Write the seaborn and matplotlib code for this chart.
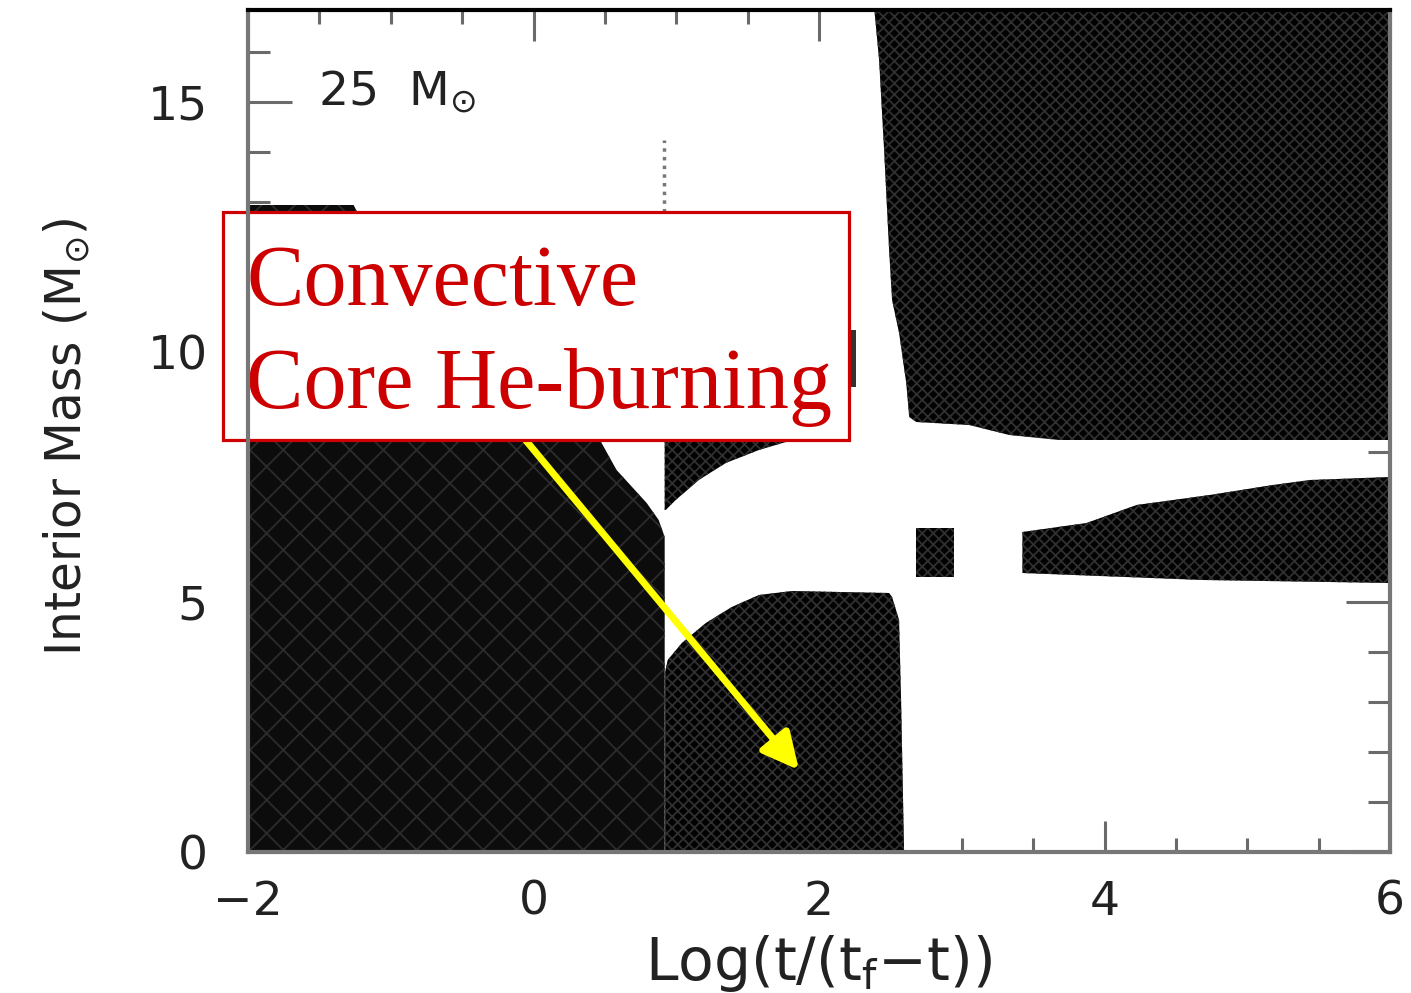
import matplotlib
matplotlib.use("Agg")
import matplotlib.pyplot as plt
import seaborn as sns
from matplotlib.patches import Rectangle
from matplotlib.ticker import FixedLocator, MultipleLocator

# ---------------- data ----------------
# Convective zone outlines: x = Log(t/(t_f - t)), y = interior mass (Msun)
envelope_x = [-2.0, -2.0, -1.26, -1.20, 0.40, 0.477, 0.582, 0.793, 0.877, 0.919, 0.919]
envelope_y = [0.0, 12.94, 12.94, 12.60, 8.60, 8.18, 7.64, 6.98, 6.64, 6.30, 0.0]

wedge_x = [0.919, 1.768, 1.579, 1.347, 1.158, 0.996, 0.926, 0.919]
wedge_y = [8.20, 8.20, 8.04, 7.78, 7.44, 7.04, 6.84, 6.84]

core_x = [0.922, 0.922, 0.94, 1.039, 1.207, 1.389, 1.579, 1.811, 2.491, 2.512, 2.561, 2.575, 2.596]
core_y = [0.0, 3.60, 3.84, 4.18, 4.58, 4.90, 5.14, 5.22, 5.18, 5.10, 4.64, 3.04, 0.0]

outer_x = [2.386, 2.421, 2.456, 2.491, 2.512, 2.561, 2.611, 2.632, 2.681, 3.053, 3.333, 3.684, 6.0, 6.0]
outer_y = [16.9, 15.84, 14.04, 12.04, 11.04, 10.38, 9.38, 8.70, 8.60, 8.54, 8.34, 8.24, 8.24, 16.9]

blob_x = [2.681, 2.947, 2.947, 2.681]
blob_y = [5.50, 5.50, 6.48, 6.48]

shell_x = [3.425, 3.425, 3.874, 4.225, 4.737, 5.179, 5.439, 6.0, 6.0, 4.688]
shell_y = [5.58, 6.40, 6.58, 6.94, 7.14, 7.34, 7.44, 7.50, 5.38, 5.44]

sliver_x = [2.225, 2.26, 2.26, 2.225]
sliver_y = [9.30, 9.30, 10.45, 10.45]

thin_x = [0.915, 0.915]
thin_y = [12.80, 14.24]

seam_x = [0.92, 0.92]
seam_y = [0.0, 3.6]

xticks = [-2, 0, 2, 4, 6]
xtick_labels = ["\u22122", "0", "2", "4", "6"]
yticks = [0, 5, 10, 15]
ytick_labels = ["0", "5", "10", "15"]

star_label = "25  M$_{\\odot}$"
x_label = "Log(t/(t$_\\mathrm{f}$\u2212t))"
y_label = "Interior Mass (M$_{\\odot}$)"
note_lines = ["Convective", "Core He-burning"]

# ---------------- style ----------------
sns.set_theme(style="ticks")
plt.rcParams["font.family"] = ["DejaVu Sans"]
plt.rcParams["mathtext.fontset"] = "dejavusans"
plt.rcParams["hatch.linewidth"] = 1.3

fig = plt.figure(figsize=(14.11, 9.93), dpi=100)
ax = fig.add_axes([248 / 1411, 1 - 852 / 993, (1390 - 248) / 1411, (852 - 10) / 993])
ax.set_facecolor("white")

# convective regions
ax.fill(envelope_x, envelope_y, facecolor="#0c0c0c", edgecolor="#2c2c2c",
        hatch="x", linewidth=0, zorder=1)
for xs, ys in [(wedge_x, wedge_y), (core_x, core_y), (outer_x, outer_y),
               (blob_x, blob_y), (shell_x, shell_y)]:
    ax.fill(xs, ys, facecolor="#020202", edgecolor="#303030",
            hatch="xxx", linewidth=0, zorder=1)
ax.fill(sliver_x, sliver_y, facecolor="#333333", linewidth=0, zorder=1)
sns.lineplot(x=thin_x, y=thin_y, estimator=None, sort=False, ax=ax,
             color="#777777", linestyle=(0, (1, 1.5)), linewidth=2.5, zorder=1)
sns.lineplot(x=seam_x, y=seam_y, estimator=None, sort=False, ax=ax,
             color="#3a3a3a", linestyle=(0, (1, 1.5)), linewidth=1.5, zorder=1.5)

ax.set_xlim(-2, 6)
ax.set_ylim(0, 16.84)

# ticks
ax.xaxis.set_major_locator(FixedLocator(xticks))
ax.xaxis.set_minor_locator(MultipleLocator(0.5))
ax.yaxis.set_major_locator(FixedLocator(yticks))
ax.yaxis.set_minor_locator(MultipleLocator(1))
ax.set_xticklabels(xtick_labels)
ax.set_yticklabels(ytick_labels)
ax.tick_params(which="both", direction="in", top=True, right=True,
               colors="#6a6a6a", width=2.2)
ax.tick_params(axis="both", which="major", labelsize=34, labelcolor="#222222")
ax.tick_params(axis="x", which="major", length=22, pad=20)
ax.tick_params(axis="x", which="minor", length=10)
ax.tick_params(axis="y", which="major", length=32, pad=29)
ax.tick_params(axis="y", which="minor", length=16)
ax.grid(False)

for name, sp in ax.spines.items():
    sp.set_linewidth(3)
    sp.set_color("#777777")
    sp.set_zorder(6)
ax.spines["top"].set_color("#000000")

# labels
ax.set_xlabel(x_label, fontsize=42, color="#222222")
ax.xaxis.set_label_coords(0.5, -0.096)
ax.set_ylabel(y_label, fontsize=35, color="#222222")
ax.yaxis.set_label_coords(-0.137, 0.493)

ax.text(-1.51, 14.94, star_label, fontsize=34, color="#222222",
        va="baseline", ha="left", zorder=5)

# annotation box
box = Rectangle((-2.175, 8.24), 2.211 + 2.175, 12.80 - 8.24,
                facecolor="white", edgecolor="#CC0000", linewidth=2.3,
                zorder=4, clip_on=False)
ax.add_patch(box)
ax.text(-2.014, 10.94, note_lines[0], fontsize=62, family="Liberation Serif",
        color="#CC0000", va="baseline", ha="left", zorder=5)
ax.text(-2.014, 8.88, note_lines[1], fontsize=62, family="Liberation Serif",
        color="#CC0000", va="baseline", ha="left", zorder=5)

# yellow arrow
ax.annotate("", xy=(1.86, 1.64), xytext=(-0.056, 8.24),
            arrowprops=dict(arrowstyle="-|>", color="#FFFF00", lw=5,
                            mutation_scale=55, shrinkA=0, shrinkB=0),
            zorder=3)

fig.savefig("out.png", dpi=100)
